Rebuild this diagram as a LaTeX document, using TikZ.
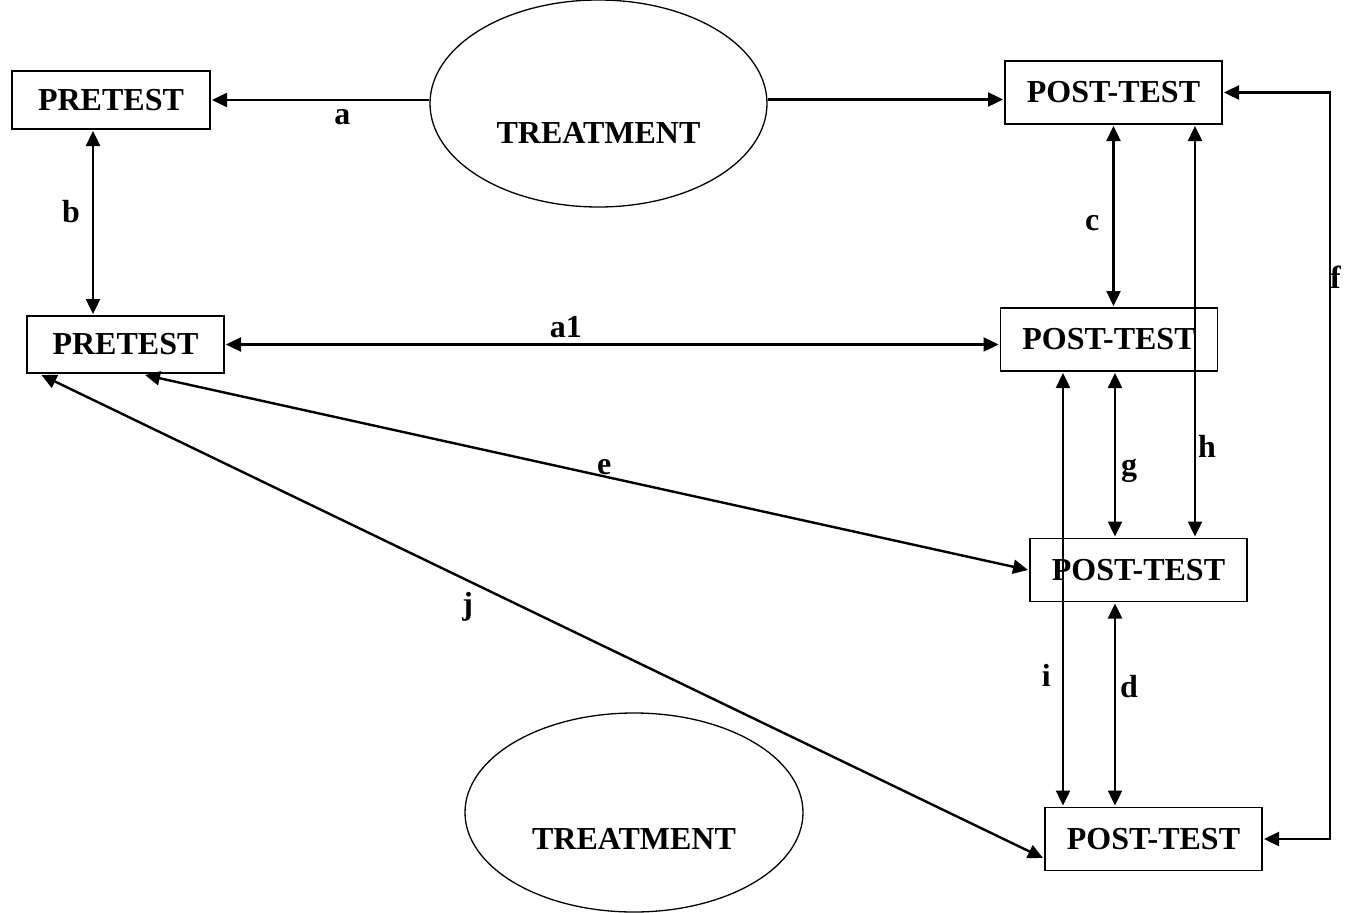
\documentclass[tikz,border=0pt]{standalone}
\usepackage{fontspec}
\setmainfont{Liberation Serif}
\usetikzlibrary{calc, arrows.meta, shapes.geometric}
\tikzset{
	>={Triangle[length=15pt, width=14pt]},
	testbox/.style = {draw, line width=1.5pt, inner sep=0pt, outer sep=2pt, minimum width=217pt, minimum height=63pt},
	treat/.style = {draw, ellipse, line width=1.3pt, inner sep=0pt},
	link/.style = {line width=2.4pt, <->},
	lbl/.style = {inner sep=0pt},
}

\begin{document}
\begin{tikzpicture}[x=1pt, y=-1pt, font=\fontsize{32}{36}\selectfont\bfseries]
	\useasboundingbox (0,0) rectangle (1345,913);
	% tests
	\node[testbox, minimum width=198pt, minimum height=58pt] (pre1) at (111,100) {PRETEST};
	\node[testbox, minimum width=197pt, minimum height=57pt] (pre2) at (125.5,344.5) {PRETEST};
	\node[testbox] (post1) at (1113.5,92.5) {POST-TEST};
	\node[testbox] (post2) at (1109,339.5) {POST-TEST};
	\node[testbox] (post3) at (1138.5,570) {POST-TEST};
	\node[testbox] (post4) at (1153.5,839) {POST-TEST};
	% treatments
	\node[treat, minimum width=337pt, minimum height=207pt] (t1) at (598.5,103.5) {};
	\node (t1text) at ($(t1.center)+(0,29)$) {TREATMENT};
	\node[treat, minimum width=338pt, minimum height=199pt] (t2) at (634,812.5) {};
	\node (t2text) at ($(t2.center)+(0,26)$) {TREATMENT};
	% connectors
	\draw[link, ->] (t1.west |- pre1) -- (pre1.east) node[lbl, pos=0.4, below=8pt] {a};
	\draw[link, ->] ($(t1.east)+(0,-4)$) -- ($(t1.east -| post1.west)+(0,-4)$);
	\coordinate (bt) at ($(pre1.south)+(-18,0)$);
	\draw[link] (bt) -- (bt |- pre2.north) node[lbl, pos=0.44, left=12pt] {b};
	\draw[link] (pre2.east) -- (pre2.east -| post2.west) node[lbl, pos=0.44, above=5pt] {a1};
	\draw[link] (post1.south) -- (post1.south |- post2.north) node[lbl, pos=0.54, left=13pt] {c};
	\coordinate (ht) at ($(post1.south)+(81.5,0)$);
	\draw[link] (ht) -- (ht |- post3.north) node[lbl, pos=0.78, right=2pt] {h};
	\draw[link] (post1.east) -- ++(106,0) |- (post4.east) node[lbl, pos=0.124, right=-1pt] {f};
	\coordinate (gt) at ($(post2.south)+(6,0)$);
	\draw[link] (gt) -- (gt |- post3.north) node[lbl, pos=0.6, right=5pt] {g};
	\coordinate (it) at ($(post2.south)+(-46,0)$);
	\draw[link] (it) -- (it |- post4.north) node[lbl, pos=0.7, left=11pt] {i};
	\coordinate (dt) at ($(post3.south)+(-23.5,0)$);
	\draw[link] (dt) -- (dt |- post4.north) node[lbl, pos=0.41, right=4pt] {d};
	\coordinate (et) at ($(pre2.south)+(19.5,0)$);
	\draw[link] (et) -- (post3.west) node[lbl, pos=0.52, above=0pt] {e};
	\coordinate (jt) at ($(pre2.south)+(-84,0)$);
	\coordinate (jb) at ($(post4.west)+(0,19)$);
	\draw[link] (jt) -- (jb) node[lbl, pos=0.48, left=48pt] {j};
\end{tikzpicture}
\end{document}
